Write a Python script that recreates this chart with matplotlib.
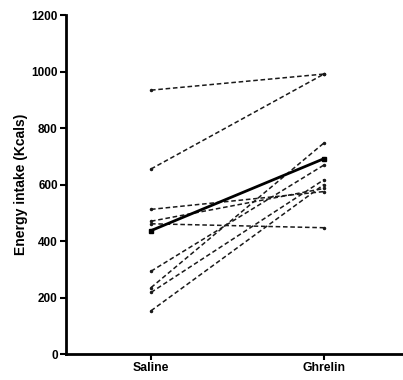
import numpy as np
import matplotlib
matplotlib.use('Agg')
import matplotlib.pyplot as plt

# paired data: energy intake (Kcals) per subject
groups = ['Saline', 'Ghrelin']
saline = [934, 655, 512, 470, 461, 293, 235, 218, 153]
ghrelin = [991, 991, 575, 586, 447, 669, 747, 617, 600]

plt.rcParams['font.family'] = ['Liberation Sans', 'DejaVu Sans']

fig = plt.figure(figsize=(4.03, 3.80), dpi=100)
ax = fig.add_axes([0.164, 0.0684, 0.836, 0.8921])

x = np.arange(len(groups))
for s, g in zip(saline, ghrelin):
    ax.plot(x, [s, g], color='#1a1a1a', lw=1.1, ls=(0, (3, 1.8)),
            marker='o', ms=1.5, zorder=2)

mean_vals = [np.mean(saline), np.mean(ghrelin)]
ax.plot(x, mean_vals, color='black', lw=2.0, marker='s', ms=3, zorder=3)

ax.set_xlim(-0.491, 1.457)
ax.set_ylim(0, 1200)
ax.set_yticks([0, 200, 400, 600, 800, 1000, 1200])
ax.set_xticks(x)
ax.set_xticklabels(groups, fontweight='bold', fontsize=8.8)
for lbl in ax.get_yticklabels():
    lbl.set_fontweight('bold')
    lbl.set_fontsize(8.5)
ax.set_ylabel('Energy intake (Kcals)', fontweight='bold', fontsize=10, labelpad=2)

for side in ['top', 'right']:
    ax.spines[side].set_visible(False)
for side in ['left', 'bottom']:
    ax.spines[side].set_linewidth(2)
ax.tick_params(width=1.5, length=4, pad=2)

plt.savefig('out.png', dpi=100)
